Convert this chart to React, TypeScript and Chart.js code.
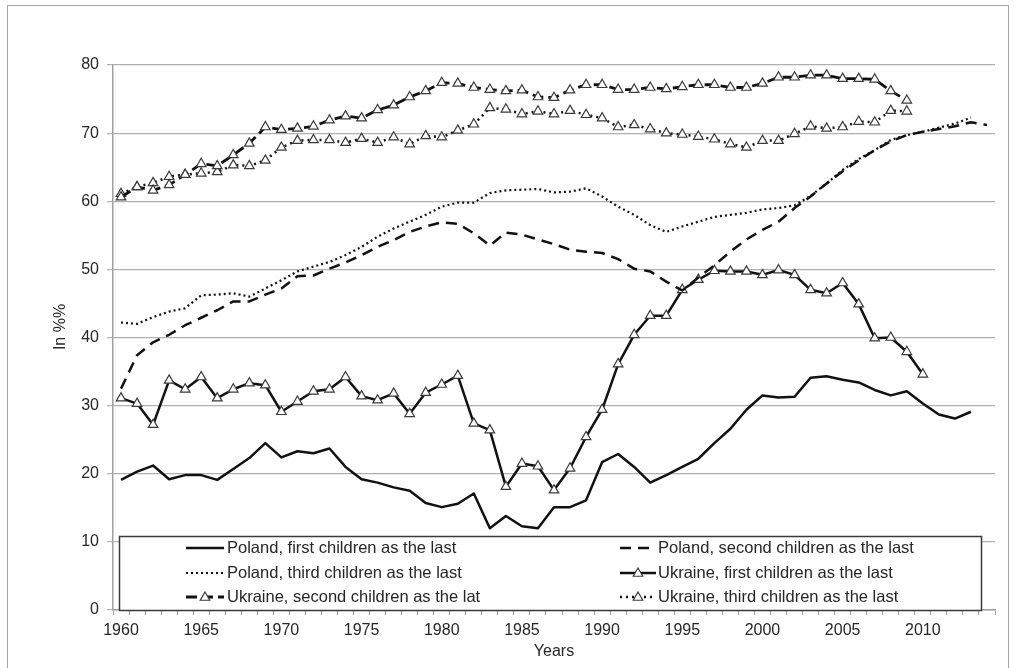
import React, { useEffect, useRef } from 'react';
import { Chart, registerables } from 'chart.js';

Chart.register(...registerables);

const years = [
  '1960', '1961', '1962', '1963', '1964', '1965', '1966', '1967', '1968', '1969',
  '1970', '1971', '1972', '1973', '1974', '1975', '1976', '1977', '1978', '1979',
  '1980', '1981', '1982', '1983', '1984', '1985', '1986', '1987', '1988', '1989',
  '1990', '1991', '1992', '1993', '1994', '1995', '1996', '1997', '1998', '1999',
  '2000', '2001', '2002', '2003', '2004', '2005', '2006', '2007', '2008', '2009',
  '2010', '2011', '2012', '2013', '2014',
];

const xTickLabels = ['1960', '1965', '1970', '1975', '1980', '1985', '1990', '1995', '2000', '2005', '2010'];

const polandFirst = [
  19.1, 20.3, 21.2, 19.2, 19.8, 19.8, 19.1, 20.7, 22.3, 24.5,
  22.4, 23.3, 23.0, 23.7, 21.0, 19.2, 18.7, 18.0, 17.5, 15.7,
  15.1, 15.6, 17.1, 12.0, 13.8, 12.3, 12.0, 15.1, 15.1, 16.1,
  21.7, 22.9, 21.0, 18.7, 19.8, 21.0, 22.2, 24.5, 26.6, 29.4,
  31.5, 31.2, 31.3, 34.1, 34.3, 33.8, 33.4, 32.3, 31.5, 32.1,
  30.3, 28.7, 28.1, 29.1, null,
];

const polandSecond = [
  32.5, 37.4, 39.3, 40.4, 41.8, 42.9, 44.0, 45.3, 45.3, 46.3,
  47.2, 49.0, 49.1, 50.1, 51.0, 52.1, 53.3, 54.3, 55.5, 56.3,
  56.9, 56.7, 55.3, 53.5, 55.4, 55.1, 54.4, 53.7, 52.9, 52.6,
  52.4, 51.5, 50.1, 49.7, 48.2, 46.9, 48.8, 50.6, 52.6, 54.4,
  55.8, 57.0, 59.0, 60.7, 62.6, 64.4, 66.0, 67.5, 68.8, 69.7,
  70.2, 70.6, 71.0, 71.6, 71.2,
];

const polandThird = [
  42.2, 42.0, 43.0, 43.8, 44.3, 46.2, 46.3, 46.5, 46.0, 47.2,
  48.4, 49.7, 50.4, 51.1, 52.1, 53.3, 54.8, 56.0, 57.0, 58.0,
  59.2, 59.8, 59.8, 61.2, 61.6, 61.7, 61.8, 61.3, 61.4, 61.9,
  60.7, 59.2, 58.0, 56.5, 55.5, 56.3, 57.0, 57.7, 58.0, 58.3,
  58.8, 59.0, 59.4, 60.8, 62.6, 64.6, 66.2, 67.5, 69.0, 69.7,
  70.2, 70.8, 71.4, 72.3, null,
];

const ukraineFirst = [
  31.1, 30.3, 27.2, 33.7, 32.4, 34.2, 31.1, 32.4, 33.3, 33.0,
  29.1, 30.6, 32.1, 32.4, 34.2, 31.4, 30.8, 31.8, 28.8, 31.9,
  33.1, 34.4, 27.4, 26.4, 18.1, 21.5, 21.1, 17.6, 20.8, 25.4,
  29.4, 36.1, 40.4, 43.2, 43.2, 47.0, 48.5, 49.8, 49.7, 49.7,
  49.2, 49.9, 49.2, 47.0, 46.5, 48.0, 44.9, 39.9, 40.0, 37.9,
  34.6, null, null, null, null,
];

const ukraineSecond = [
  60.6, 62.1, 61.6, 62.4, 63.9, 65.5, 65.2, 66.8, 68.5, 70.9,
  70.5, 70.7, 71.0, 71.9, 72.5, 72.2, 73.4, 74.1, 75.3, 76.2,
  77.4, 77.3, 76.7, 76.4, 76.2, 76.3, 75.3, 75.2, 76.3, 77.1,
  77.1, 76.4, 76.4, 76.7, 76.5, 76.8, 77.1, 77.1, 76.7, 76.7,
  77.3, 78.2, 78.2, 78.5, 78.5, 78.0, 78.0, 77.9, 76.2, 74.8,
  null, null, null, null, null,
];

const ukraineThird = [
  61.1, 62.1, 62.7, 63.6, 63.9, 64.1, 64.3, 65.3, 65.2, 66.0,
  67.9, 68.9, 69.0, 69.0, 68.6, 69.2, 68.6, 69.4, 68.4, 69.6,
  69.4, 70.4, 71.3, 73.7, 73.5, 72.8, 73.2, 72.8, 73.3, 72.7,
  72.2, 70.9, 71.2, 70.6, 70.0, 69.8, 69.5, 69.1, 68.4, 67.9,
  68.9, 68.9, 69.9, 71.0, 70.7, 70.9, 71.7, 71.6, 73.3, 73.2,
  null, null, null, null, null,
];

const seriesLabels = [
  'Poland, first children as the last',
  'Poland, second children as the last',
  'Poland, third children as the last',
  'Ukraine, first children as the last',
  'Ukraine, second children as the lat',
  'Ukraine, third children as the last',
];

const yTitle = 'In %%';
const xTitle = 'Years';

const FONT = '"Liberation Sans", Arial, sans-serif';
const TEXT = '#262626';
const GRID = '#b0b0b0';
const AXIS = '#a0a0a0';
const LINE = '#111111';

function drawTriangle(ctx: CanvasRenderingContext2D, x: number, y: number, r: number) {
  let rad = 0;
  ctx.beginPath();
  ctx.moveTo(x + Math.sin(rad) * r, y - Math.cos(rad) * r);
  rad += (2 * Math.PI) / 3;
  ctx.lineTo(x + Math.sin(rad) * r, y - Math.cos(rad) * r);
  rad += (2 * Math.PI) / 3;
  ctx.lineTo(x + Math.sin(rad) * r, y - Math.cos(rad) * r);
  ctx.closePath();
  ctx.fill();
  ctx.stroke();
}

const framePlugin = {
  id: 'frame',
  beforeDraw(chart: any) {
    const ctx = chart.ctx as CanvasRenderingContext2D;
    ctx.save();
    ctx.fillStyle = '#ffffff';
    ctx.fillRect(0, 0, chart.width, chart.height);
    ctx.strokeStyle = '#a6a6a6';
    ctx.lineWidth = 1;
    ctx.strokeRect(7.5, 5.5, 1001, 680);
    ctx.restore();
  },
  afterDraw(chart: any) {
    const ctx = chart.ctx as CanvasRenderingContext2D;
    const area = chart.chartArea;
    ctx.save();
    ctx.fillStyle = TEXT;
    ctx.font = `16px ${FONT}`;
    ctx.textAlign = 'center';
    ctx.textBaseline = 'middle';
    ctx.fillText(xTitle, (area.left + area.right) / 2, 652);
    ctx.translate(61, 327);
    ctx.rotate(-Math.PI / 2);
    ctx.fillText(yTitle, 0, 0);
    ctx.restore();
  },
};

const legendPlugin = {
  id: 'boxLegend',
  afterDatasetsDraw(chart: any) {
    const ctx = chart.ctx as CanvasRenderingContext2D;
    const bx = 119.5, by = 536.5, bw = 862, bh = 74;
    ctx.save();
    ctx.fillStyle = '#ffffff';
    ctx.fillRect(bx, by, bw, bh);
    ctx.strokeStyle = '#3a3a3a';
    ctx.lineWidth = 1.5;
    ctx.setLineDash([]);
    ctx.strokeRect(bx, by, bw, bh);

    const rowsY = [548, 573, 597];
    const sampleX = [[186, 224], [620, 656]];
    const textX = [227, 658];
    chart.data.datasets.forEach((ds: any, i: number) => {
      const row = Math.floor(i / 2);
      const col = i % 2;
      const y = rowsY[row];
      const [x0, x1] = sampleX[col];
      ctx.save();
      ctx.strokeStyle = ds.borderColor;
      ctx.lineWidth = ds.borderWidth;
      ctx.setLineDash(ds.borderDash || []);
      ctx.lineCap = 'butt';
      ctx.beginPath();
      ctx.moveTo(x0, y);
      ctx.lineTo(x1, y);
      ctx.stroke();
      if (ds.pointRadius > 0) {
        ctx.setLineDash([]);
        ctx.fillStyle = ds.pointBackgroundColor;
        ctx.strokeStyle = ds.pointBorderColor;
        ctx.lineWidth = ds.pointBorderWidth;
        drawTriangle(ctx, (x0 + x1) / 2, y + 0.5, ds.pointRadius);
      }
      ctx.restore();
      ctx.fillStyle = TEXT;
      ctx.font = `16.5px ${FONT}`;
      ctx.textAlign = 'left';
      ctx.textBaseline = 'middle';
      ctx.fillText(ds.label, textX[col], y);
    });
    ctx.restore();
  },
};

function makeDataset(label: string, data: (number | null)[], dash: number[], width: number, markers: boolean) {
  return {
    label,
    data,
    borderColor: LINE,
    backgroundColor: LINE,
    borderWidth: width,
    borderDash: dash,
    borderCapStyle: 'butt',
    borderJoinStyle: 'round',
    fill: false,
    tension: 0,
    spanGaps: false,
    pointStyle: 'triangle',
    pointRadius: markers ? 5.5 : 0,
    pointHoverRadius: markers ? 5.5 : 0,
    pointBackgroundColor: '#ffffff',
    pointBorderColor: '#3a3a3a',
    pointBorderWidth: 1.2,
  };
}

export default function App() {
  const canvasRef = useRef<HTMLCanvasElement | null>(null);

  useEffect(() => {
    if (!canvasRef.current) return;
    const chart = new Chart(canvasRef.current, {
      type: 'line',
      data: {
        labels: years,
        datasets: [
          makeDataset(seriesLabels[0], polandFirst, [], 2.5, false),
          makeDataset(seriesLabels[1], polandSecond, [11, 7], 2.5, false),
          makeDataset(seriesLabels[2], polandThird, [2, 3], 2.2, false),
          makeDataset(seriesLabels[3], ukraineFirst, [], 2.5, true),
          makeDataset(seriesLabels[4], ukraineSecond, [11, 5], 2.8, true),
          makeDataset(seriesLabels[5], ukraineThird, [2, 4], 2.5, true),
        ] as any,
      },
      options: {
        animation: false,
        responsive: false,
        maintainAspectRatio: false,
        events: [],
        layout: { padding: { left: 8, top: 65, right: 21, bottom: 0 } },
        plugins: {
          legend: { display: false },
          tooltip: { enabled: false },
          title: { display: false },
        },
        scales: {
          x: {
            type: 'category',
            offset: true,
            afterFit: (scale: any) => { scale.height = 58; },
            grid: {
              offset: true,
              drawOnChartArea: false,
              drawTicks: true,
              tickLength: 5,
              color: AXIS,
              lineWidth: 1,
            },
            border: { display: true, color: AXIS, width: 1.5 },
            ticks: {
              autoSkip: false,
              maxRotation: 0,
              minRotation: 0,
              padding: 6,
              color: TEXT,
              font: { family: FONT, size: 16 },
              callback: function (this: any, value: any) {
                const lab = this.getLabelForValue(value);
                return xTickLabels.includes(lab) ? lab : '';
              },
            },
          },
          y: {
            min: 0,
            max: 80,
            afterFit: (scale: any) => { scale.width = 105; },
            grid: {
              color: GRID,
              lineWidth: 1.2,
              drawTicks: true,
              tickLength: 6,
            },
            border: { display: true, color: AXIS, width: 1.5 },
            ticks: {
              stepSize: 10,
              padding: 8,
              color: TEXT,
              font: { family: FONT, size: 16 },
            },
          },
        },
      },
      plugins: [framePlugin, legendPlugin],
    });
    return () => chart.destroy();
  }, []);

  return (
    <div style={{ position: 'absolute', left: 0, top: 0, width: 1016, height: 668 }}>
      <canvas ref={canvasRef} width={1016} height={668} style={{ display: 'block' }} />
    </div>
  );
}
